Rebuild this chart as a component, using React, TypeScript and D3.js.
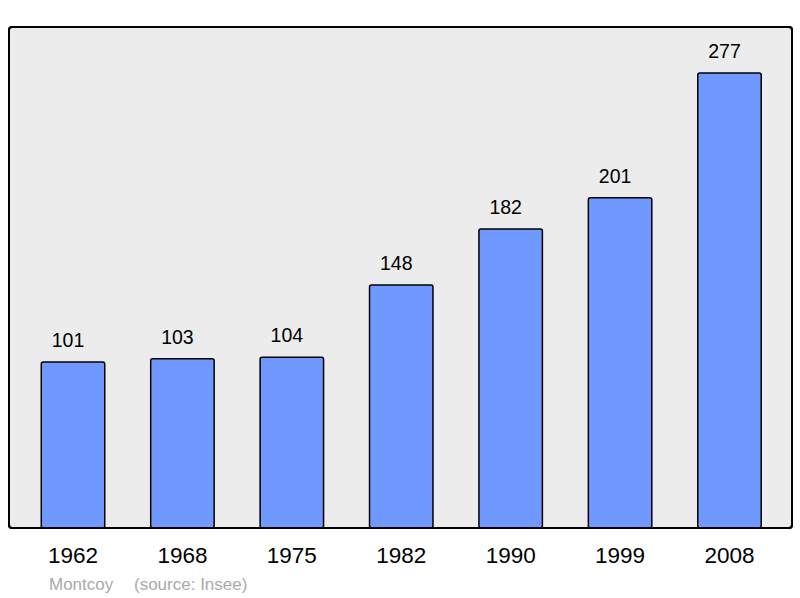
import React from "react";
import * as d3 from "d3";

const years = ["1962", "1968", "1975", "1982", "1990", "1999", "2008"];
const population = [101, 103, 104, 148, 182, 201, 277];
const town = "Montcoy";
const source = "(source: Insee)";

const W = 800;
const H = 598;
const panel = { x: 9, y: 27, w: 783, h: 501 };

export default function App() {
  const x = d3.scaleBand<string>().domain(years).range([18.3, 784.2]).paddingInner(0.42).paddingOuter(0.21);
  const y = d3.scaleLinear().domain([0, 277]).range([528, 73]);
  const font = "'Liberation Sans', Arial, sans-serif";
  return (
    <svg width={W} height={H} style={{ position: "absolute", left: 0, top: 0 }} fontFamily={font}>
      <rect x={0} y={0} width={W} height={H} fill="#ffffff" />
      <rect x={panel.x} y={panel.y} width={panel.w} height={panel.h} rx={3} fill="#ececec" stroke="#000" strokeWidth={2} />
      {years.map((yr, i) => {
        const bx = x(yr)!;
        const bw = x.bandwidth();
        const top = y(population[i]);
        return (
          <g key={yr}>
            <rect x={bx} y={top} width={bw} height={y(0) - top} rx={2} fill="#7099ff" stroke="#000" strokeWidth={1.5} />
            <text x={bx + bw / 2 - 5} y={top - 15} textAnchor="middle" fontSize={19.5} fill="#000">{population[i]}</text>
            <text x={bx + bw / 2} y={563} textAnchor="middle" fontSize={22.5} fill="#000">{yr}</text>
          </g>
        );
      })}
      <rect x={panel.x} y={panel.y} width={panel.w} height={panel.h} rx={3} fill="none" stroke="#000" strokeWidth={2} />
      <text x={49} y={590} fontSize={17} fill="#aaaaaa">{town}</text>
      <text x={134} y={590} fontSize={17} fill="#aaaaaa">{source}</text>
    </svg>
  );
}
